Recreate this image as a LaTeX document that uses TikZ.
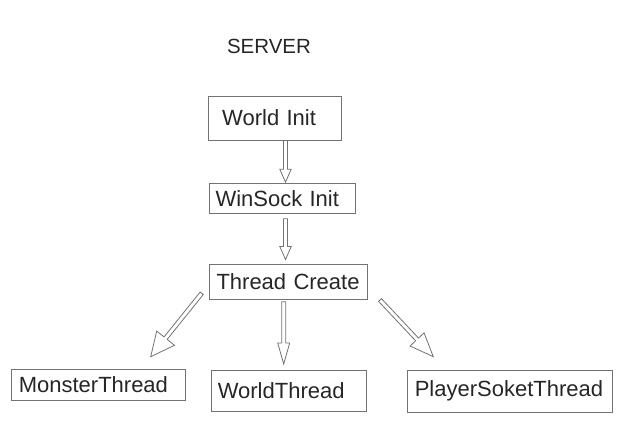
\documentclass[tikz,border=0pt]{standalone}
\usepackage{fontspec}
\setmainfont{Liberation Sans}
\usetikzlibrary{calc}
\colorlet{linegray}{black!55}
\colorlet{textgray}{black!85}

% hollow block arrow: #1 head length, #2 head half width, #3 from, #4 to
\newcommand{\blockarrow}[4]{%
  \coordinate (ba-base) at ($(#4)!#1!(#3)$);
  \draw[arrowline] ($(#3)!2pt!90:(#4)$) -- ($(ba-base)!2pt!90:(#4)$) -- ($(ba-base)!#2!90:(#4)$) -- (#4)
    -- ($(ba-base)!#2!-90:(#4)$) -- ($(ba-base)!2pt!-90:(#4)$) -- ($(#3)!2pt!-90:(#4)$) -- cycle;
}

\begin{document}
\begin{tikzpicture}[x=1pt, y=-1pt,
  procbox/.style 2 args={rectangle, draw=linegray, line width=1pt, anchor=west, align=left, text=textgray,
    font=\fontsize{22}{26}\selectfont, inner ysep=0pt, text width=#1, minimum height=#2},
  arrowline/.style={draw=linegray, line width=0.8pt, line join=miter, fill=white}]
\useasboundingbox (0,0) rectangle (622,421);

% TITLE

\node [text=textgray, font=\fontsize{20.5}{24}\selectfont] (server) at (269,46.5) {SERVER};

% BOXES

\node [procbox={105.6pt}{44pt}, inner xsep=13.4pt] (world-init) at (208.3,118) {World Init};
\node [procbox={134pt}{30pt}, inner xsep=6pt] (winsock-init) at (209,198.3) {WinSock Init};
\node [procbox={143.7pt}{35.3pt}, inner xsep=7pt] (thread-create) at (209,281.7) {Thread Create};

\node [procbox={159.4pt}{31.4pt}, inner xsep=7.3pt] (monster-thread) at (11,385) {MonsterThread};
\node [procbox={142.4pt}{40.8pt}, inner xsep=6pt] (world-thread) at (211.3,391.1) {WorldThread};
\node [procbox={190.4pt}{42.3pt}, inner xsep=7pt] (player-thread) at (407.3,391.2) {PlayerSoketThread};

% ARROWS

\coordinate (world-out) at ([xshift=10.5pt]world-init.south);
\coordinate (winsock-in) at ($(world-out |- winsock-init.north)+(0,-0.6)$);
\coordinate (winsock-out) at ($(world-out |- winsock-init.south)+(0,5)$);
\coordinate (thread-in) at ($(world-out |- thread-create.north)+(0,-4)$);
\coordinate (thread-out-left) at (201.7,293.3);
\coordinate (thread-out-mid) at (283.7,301.7);
\coordinate (thread-out-right) at (380,300);
\coordinate (monster-in) at (150.7,356.7);
\coordinate (worldthr-in) at (283.7,364);
\coordinate (player-in) at (433.3,356.7);

\blockarrow{13pt}{5.7pt}{world-out}{winsock-in}
\blockarrow{13pt}{5.7pt}{winsock-out}{thread-in}
\blockarrow{23.8pt}{11.4pt}{thread-out-left}{monster-in}
\blockarrow{21pt}{6pt}{thread-out-mid}{worldthr-in}
\blockarrow{23.7pt}{9.6pt}{thread-out-right}{player-in}

\end{tikzpicture}
\end{document}
